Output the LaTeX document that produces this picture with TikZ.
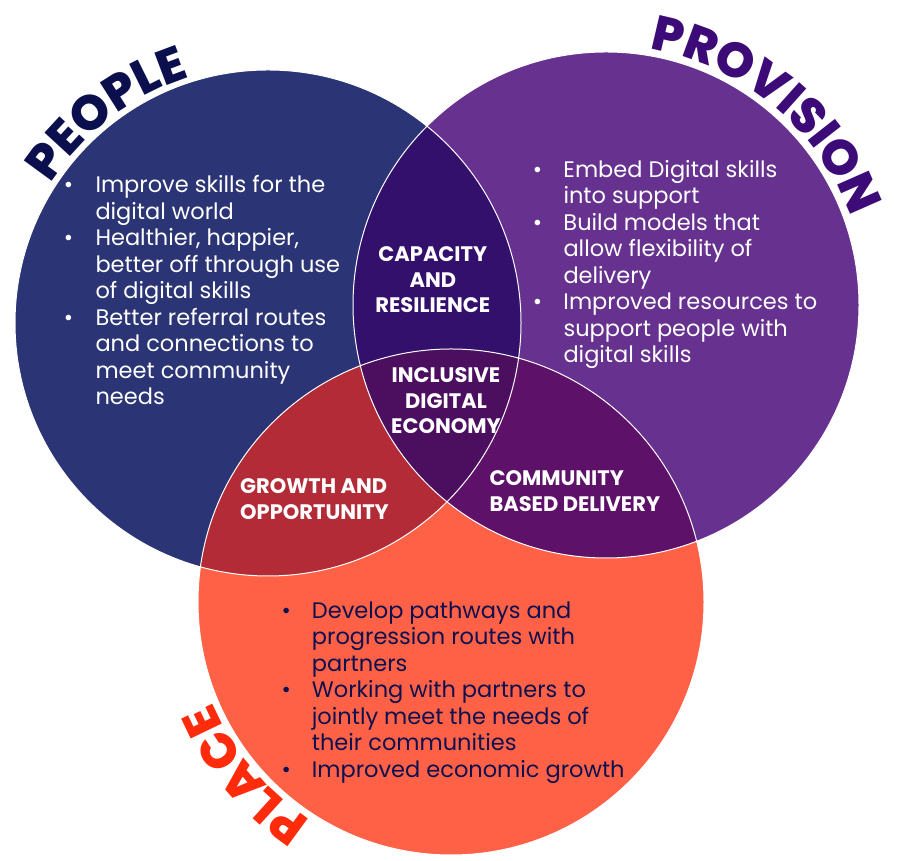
\documentclass[tikz,border=0pt]{standalone}
\usepackage{fontspec}
\setmainfont{Poppins}
\IfFontExistsTF{Poppins ExtraBold}
  {\newfontfamily\heavyfnt{Poppins ExtraBold}}
  {\newfontfamily\heavyfnt{Poppins}[UprightFont=*-Bold]}
\usetikzlibrary{decorations.text}
\definecolor{peopleC}{HTML}{2B3474}
\definecolor{provC}{HTML}{66318F}
\definecolor{placeC}{HTML}{FF6146}
\definecolor{ppC}{HTML}{33106B}
\definecolor{plC}{HTML}{B22B37}
\definecolor{vlC}{HTML}{5E1169}
\definecolor{centerC}{HTML}{4C0E5F}
\definecolor{peopleT}{HTML}{0B0F4E}
\definecolor{provT}{HTML}{3C0B78}
\definecolor{placeT}{HTML}{FF2B0B}
\definecolor{navyT}{HTML}{0E1150}
\newcommand{\titlefnt}{\heavyfnt\fontsize{49}{49}\selectfont}
\newcommand{\bpt}{\makebox[0pt]{\textbullet}}
\tikzset{
  bul/.style={inner sep=0pt, anchor=base west, font=\fontsize{22.5}{26.5}\selectfont},
  lap/.style={inner sep=0pt, anchor=base, text=white, font=\bfseries\fontsize{21}{25.5}\selectfont},
  title/.style={decorate, decoration={text along path, text align=center}}
}
\begin{document}
\begin{tikzpicture}[x=1pt,y=1pt]
\useasboundingbox (0,0) rectangle (900,861);
\coordinate (cpe) at (268,538);
\coordinate (cpr) at (606,556);
\coordinate (cpl) at (451,259);
\fill[peopleC] (cpe) circle (253pt);
\fill[provC] (cpr) circle (253pt);
\fill[placeC] (cpl) circle (253pt);
\begin{scope}\clip (cpe) circle (253pt); \fill[ppC] (cpr) circle (253pt); \end{scope}
\begin{scope}\clip (cpe) circle (253pt); \fill[plC] (cpl) circle (253pt); \end{scope}
\begin{scope}\clip (cpr) circle (253pt); \fill[vlC] (cpl) circle (253pt); \end{scope}
\begin{scope}\clip (cpe) circle (253pt); \clip (cpr) circle (253pt); \fill[centerC] (cpl) circle (253pt); \end{scope}
\draw[white, line width=1pt] (cpe) circle (253pt) (cpr) circle (253pt) (cpl) circle (253pt);

% titles
\path[title, decoration={text={|\titlefnt|PEOPLE}, text color=peopleT}]
  (cpe) ++(170:258pt) arc[start angle=170, end angle=85, radius=258pt];
\path[title, decoration={text={|\titlefnt|PROVISION}, text color=provT}]
  (cpr) ++(100:260pt) arc[start angle=100, end angle=0, radius=260pt];
\path[title, decoration={text={|\titlefnt|PLACE}, text color=placeT}]
  (cpl) ++(265:259pt) arc[start angle=265, end angle=175, radius=259pt];

% bullet lists
\node[bul, text=white] (tpe) at (68.3,668.3) {\begin{tabular}[t]{@{}p{27pt}@{}l@{}}
\bpt & Improve skills for the\\ & digital world\\
\bpt & Healthier, happier,\\ & better off through use\\ & of digital skills\\
\bpt & Better referral routes\\ & and connections to\\ & meet community\\ & needs
\end{tabular}};
\node[bul, text=white] (tpr) at (537.3,683.7) {\begin{tabular}[t]{@{}p{26pt}@{}l@{}}
\bpt & Embed Digital skills\\ & into support\\
\bpt & Build models that\\ & allow flexibility of\\ & delivery\\
\bpt & Improved resources to\\ & support people with\\ & digital skills
\end{tabular}};
\node[bul, text=navyT] (tpl) at (286,242.7) {\begin{tabular}[t]{@{}p{25.7pt}@{}l@{}}
\bpt & Develop pathways and\\ & progression routes with\\ & partners\\
\bpt & Working with partners to\\ & jointly meet the needs of\\ & their communities\\
\bpt & Improved economic growth
\end{tabular}};

% overlap labels
\node[lap] (cap) at (432.8,599.3) {\begin{tabular}[t]{@{}c@{}}CAPACITY\\AND\\RESILIENCE\end{tabular}};
\node[lap] (inc) at (446,478.3) {\begin{tabular}[t]{@{}c@{}}INCLUSIVE\\DIGITAL\\ECONOMY\end{tabular}};
\node[lap, anchor=base west] (gro) at (240,367) {\begin{tabular}[t]{@{}l@{}}GROWTH AND\\OPPORTUNITY\end{tabular}};
\node[lap, anchor=base west] (com) at (489.3,375.3) {\begin{tabular}[t]{@{}l@{}}COMMUNITY\\BASED DELIVERY\end{tabular}};
\end{tikzpicture}
\end{document}
